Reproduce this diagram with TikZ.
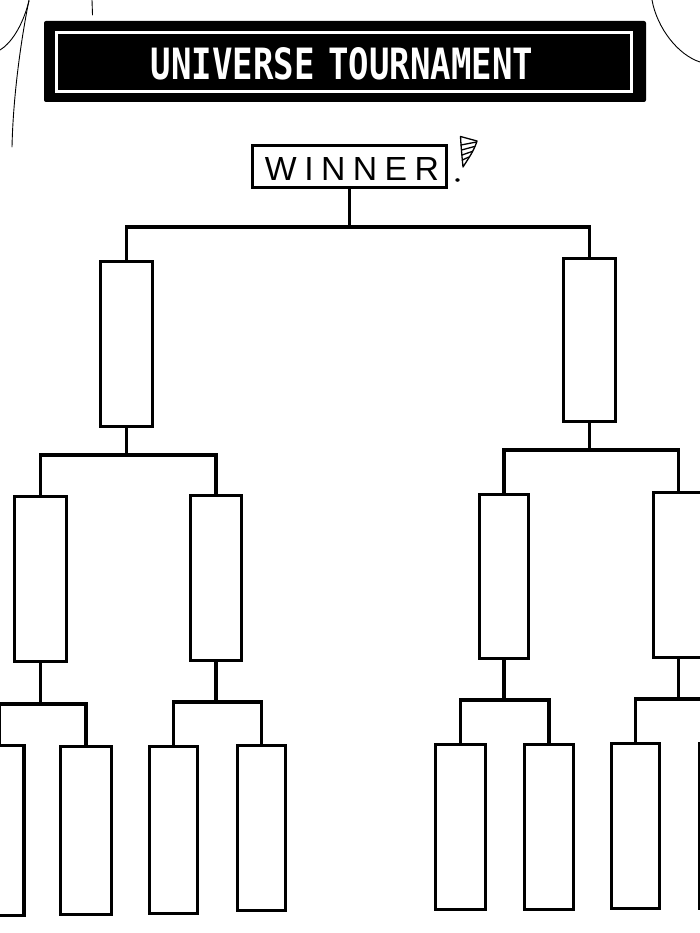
\documentclass[tikz,border=0pt]{standalone}
\usepackage{fontspec}
\usepackage{graphicx}
\newfontfamily\titlefont{DejaVu Sans Mono}
\newfontfamily\winfont[LetterSpace=22]{Liberation Sans}
\begin{document}
\begin{tikzpicture}[x=1pt,y=-1pt,
  box/.style={draw=black, line width=3.4pt, fill=white, inner sep=0pt},
  conn/.style={draw=black, line width=3.4pt},
  sketch/.style={draw=black, line width=0.9pt, line cap=round},
  bang/.style={draw=black, line width=1.3pt, line cap=round, line join=round}]
\useasboundingbox (0,0) rectangle (700,933);
\clip (0,0) rectangle (700,933);
\fill[white] (0,0) rectangle (700,933);

% background sketch strokes
\draw[sketch] (0,50) .. controls (10,44) and (22,28) .. (29,1);
\draw[sketch] (29,0) .. controls (20,45) and (13,100) .. (12,147);
\draw[sketch] (92,0) -- (92.5,15);
\draw[sketch] (652,0) .. controls (657,28) and (678,55) .. (700,62);

% title banner
\node[fill=black, rounded corners=2pt, minimum width=602pt, minimum height=81pt, inner sep=0pt] (title) at (345,61.5) {};
\node[draw=white, line width=3pt, minimum width=575pt, minimum height=59pt, inner sep=0pt] (frame) at (344,62) {};
\node[text=white, inner sep=0pt] (ttext) at (342,64) {\resizebox{382pt}{32pt}{\titlefont\bfseries UNIVERSE\hspace{-0.2em} TOURNAMENT}};

% winner box
\node[draw=black, line width=2.4pt, fill=white, minimum width=194pt, minimum height=42pt, inner sep=0pt] (win) at (349.5,166.5) {};
\node[inner sep=0pt] (wtext) at (352,168.5) {\resizebox{174pt}{23pt}{\winfont WINNER}};

% exclamation mark
\draw[bang] (460.5,136.5) -- (477,141) .. controls (474,151) and (468,159) .. (463,167) .. controls (462,157) and (461,146) .. (460.5,136.5) -- cycle;
\draw[bang] (461,145) -- (476.5,142);
\draw[bang] (461.5,150) -- (474.5,146.5);
\draw[bang] (462,155) -- (472,151.5);
\draw[bang] (462.3,160) -- (469,157);
\fill[black] (457.5,180) ellipse (2.2pt and 1.8pt);

% round 2
\node[box, minimum width=52pt, minimum height=165pt] (r2l) at (126.5,344) {};
\node[box, minimum width=52pt, minimum height=163pt] (r2r) at (589.5,340) {};
% round 3
\node[box, minimum width=52pt, minimum height=165pt] (r3a) at (40.5,579) {};
\node[box, minimum width=51pt, minimum height=165pt] (r3b) at (216,578) {};
\node[box, minimum width=49pt, minimum height=164pt] (r3c) at (504,576.5) {};
\node[box, minimum width=50pt, minimum height=165pt] (r3d) at (678.5,575) {};
% round 4
\node[box, minimum width=49pt, minimum height=170pt] (q1) at (-0.5,830.5) {};
\node[box, minimum width=51pt, minimum height=168pt] (q2) at (86,830.5) {};
\node[box, minimum width=48pt, minimum height=167pt] (q3) at (173.5,830) {};
\node[box, minimum width=48pt, minimum height=165pt] (q4) at (261.5,828) {};
\node[box, minimum width=50pt, minimum height=165pt] (q5) at (460.5,827) {};
\node[box, minimum width=49pt, minimum height=165pt] (q6) at (549,827) {};
\node[box, minimum width=48pt, minimum height=165pt] (q7) at (635.5,826) {};
\node[box, minimum width=49pt, minimum height=165pt] (q8) at (724,826) {};

% junction levels
\coordinate (j0) at (0,227);
\coordinate (j1) at (0,455);
\coordinate (j2) at (0,450);
\coordinate (j3) at (0,704);
\coordinate (j4) at (0,702);
\coordinate (j5) at (0,700);
\coordinate (j6) at (0,699);

% connectors
\draw[conn] (win.south) -- (win.south |- j0);
\draw[conn] (r2l.north) -- (r2l.north |- j0) -- (r2r.north |- j0) -- (r2r.north);

\draw[conn] (r2l.south) -- (r2l.south |- j1);
\draw[conn] (r3a.north) -- (r3a.north |- j1) -- (r3b.north |- j1) -- (r3b.north);
\draw[conn] (r2r.south) -- (r2r.south |- j2);
\draw[conn] (r3c.north) -- (r3c.north |- j2) -- (r3d.north |- j2) -- (r3d.north);

\draw[conn] (r3a.south) -- (r3a.south |- j3);
\draw[conn] (q1.north) -- (q1.north |- j3) -- (q2.north |- j3) -- (q2.north);
\draw[conn] (r3b.south) -- (r3b.south |- j4);
\draw[conn] (q3.north) -- (q3.north |- j4) -- (q4.north |- j4) -- (q4.north);
\draw[conn] (r3c.south) -- (r3c.south |- j5);
\draw[conn] (q5.north) -- (q5.north |- j5) -- (q6.north |- j5) -- (q6.north);
\draw[conn] (r3d.south) -- (r3d.south |- j6);
\draw[conn] (q7.north) -- (q7.north |- j6) -- (q8.north |- j6) -- (q8.north);
\end{tikzpicture}
\end{document}
